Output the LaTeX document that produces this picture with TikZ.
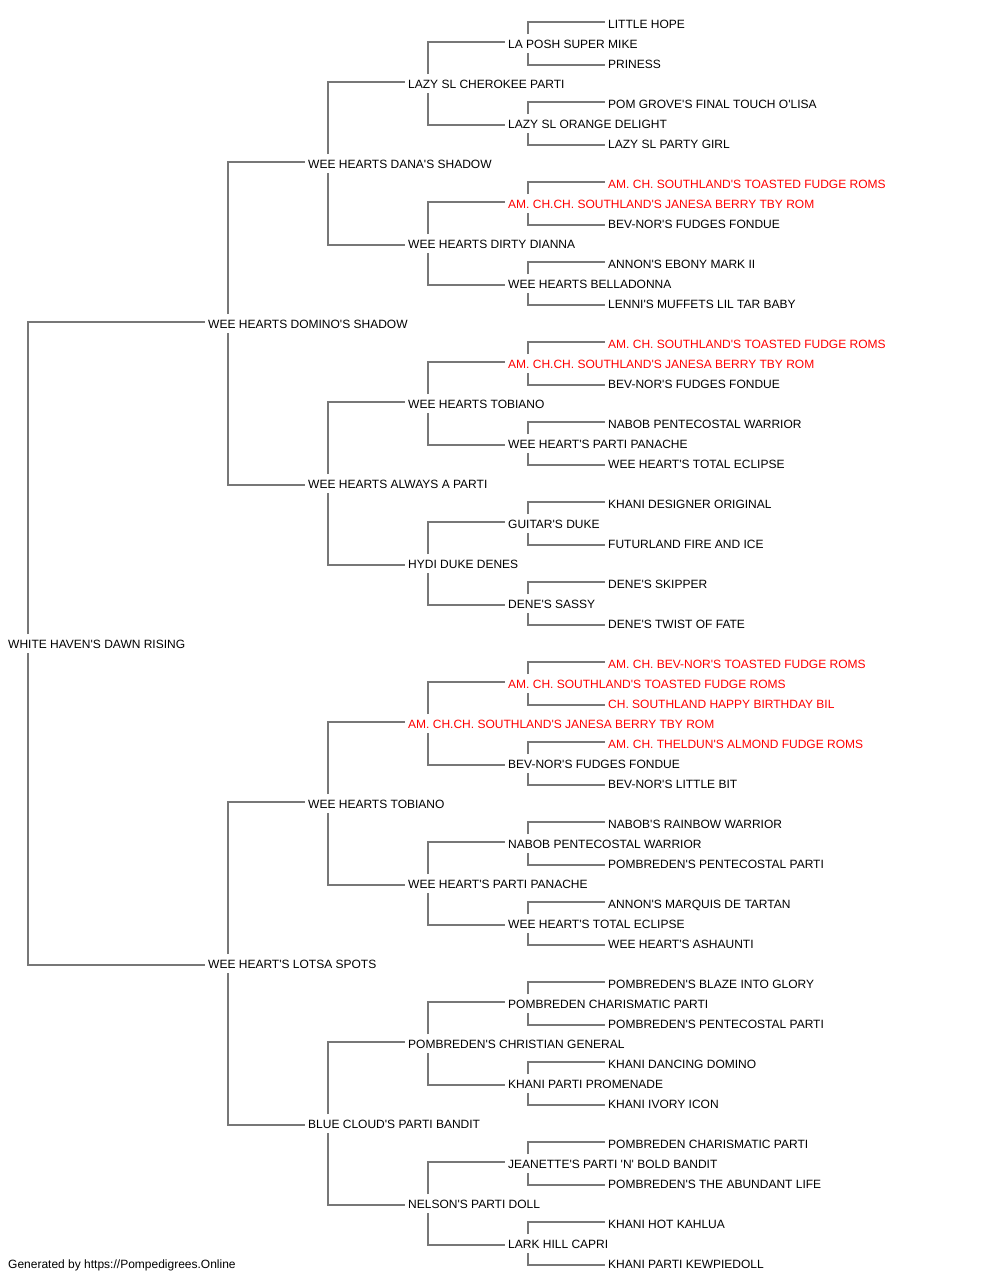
\documentclass[tikz,border=0pt]{standalone}
\usepackage{fontspec}
\setmainfont{Liberation Sans}[Ligatures=TeXOff]
\usetikzlibrary{calc}
\definecolor{linegray}{HTML}{777777}
\definecolor{redtxt}{HTML}{FF0000}
\tikzset{
  pedname/.style={anchor=west, inner sep=0pt, text height=8.6pt, text depth=0pt,
    font=\fontsize{12pt}{14pt}\selectfont},
  link/.style={draw=linegray, line width=1.5pt},
}
\begin{document}
\begin{tikzpicture}[x=1pt,y=-1pt]
\useasboundingbox (0,0) rectangle (1000,1280);
% generation 5
\foreach \t/\c [count=\i from 0] in {
 LITTLE HOPE/black, PRINESS/black, POM GROVE'S FINAL TOUCH O'LISA/black, LAZY SL PARTY GIRL/black,
 AM. CH. SOUTHLAND'S TOASTED FUDGE ROMS/redtxt, BEV-NOR'S FUDGES FONDUE/black,
 ANNON'S EBONY MARK II/black, LENNI'S MUFFETS LIL TAR BABY/black,
 AM. CH. SOUTHLAND'S TOASTED FUDGE ROMS/redtxt, BEV-NOR'S FUDGES FONDUE/black,
 NABOB PENTECOSTAL WARRIOR/black, WEE HEART'S TOTAL ECLIPSE/black,
 KHANI DESIGNER ORIGINAL/black, FUTURLAND FIRE AND ICE/black,
 DENE'S SKIPPER/black, DENE'S TWIST OF FATE/black,
 AM. CH. BEV-NOR'S TOASTED FUDGE ROMS/redtxt, CH. SOUTHLAND HAPPY BIRTHDAY BIL/redtxt,
 AM. CH. THELDUN'S ALMOND FUDGE ROMS/redtxt, BEV-NOR'S LITTLE BIT/black,
 NABOB'S RAINBOW WARRIOR/black, POMBREDEN'S PENTECOSTAL PARTI/black,
 ANNON'S MARQUIS DE TARTAN/black, WEE HEART'S ASHAUNTI/black,
 POMBREDEN'S BLAZE INTO GLORY/black, POMBREDEN'S PENTECOSTAL PARTI/black,
 KHANI DANCING DOMINO/black, KHANI IVORY ICON/black,
 POMBREDEN CHARISMATIC PARTI/black, POMBREDEN'S THE ABUNDANT LIFE/black,
 KHANI HOT KAHLUA/black, KHANI PARTI KEWPIEDOLL/black}
 { \node[pedname, text=\c] (g5-\i) at (608, 24+40*\i) {\t}; }
% generation 4
\foreach \t/\c [count=\i from 0] in {
 LA POSH SUPER MIKE/black, LAZY SL ORANGE DELIGHT/black,
 AM. CH.CH. SOUTHLAND'S JANESA BERRY TBY ROM/redtxt, WEE HEARTS BELLADONNA/black,
 AM. CH.CH. SOUTHLAND'S JANESA BERRY TBY ROM/redtxt, WEE HEART'S PARTI PANACHE/black,
 GUITAR'S DUKE/black, DENE'S SASSY/black,
 AM. CH. SOUTHLAND'S TOASTED FUDGE ROMS/redtxt, BEV-NOR'S FUDGES FONDUE/black,
 NABOB PENTECOSTAL WARRIOR/black, WEE HEART'S TOTAL ECLIPSE/black,
 POMBREDEN CHARISMATIC PARTI/black, KHANI PARTI PROMENADE/black,
 JEANETTE'S PARTI 'N' BOLD BANDIT/black, LARK HILL CAPRI/black}
 { \node[pedname, text=\c] (g4-\i) at (508, 44+80*\i) {\t}; }
% generation 3
\foreach \t/\c [count=\i from 0] in {
 LAZY SL CHEROKEE PARTI/black, WEE HEARTS DIRTY DIANNA/black,
 WEE HEARTS TOBIANO/black, HYDI DUKE DENES/black,
 AM. CH.CH. SOUTHLAND'S JANESA BERRY TBY ROM/redtxt, WEE HEART'S PARTI PANACHE/black,
 POMBREDEN'S CHRISTIAN GENERAL/black, NELSON'S PARTI DOLL/black}
 { \node[pedname, text=\c] (g3-\i) at (408, 84+160*\i) {\t}; }
% generation 2
\foreach \t [count=\i from 0] in {
 WEE HEARTS DANA'S SHADOW, WEE HEARTS ALWAYS A PARTI,
 WEE HEARTS TOBIANO, BLUE CLOUD'S PARTI BANDIT}
 { \node[pedname] (g2-\i) at (308, 164+320*\i) {\t}; }
% generation 1
\node[pedname] (g1-0) at (208, 324) {WEE HEARTS DOMINO'S SHADOW};
\node[pedname] (g1-1) at (208, 964) {WEE HEART'S LOTSA SPOTS};
% root
\node[pedname] (g0-0) at (8, 644) {WHITE HAVEN'S DAWN RISING};
% footer
\node[pedname] (footer) at (8, 1264) {Generated by https://Pompedigrees.Online};
% connectors
\foreach \p/\c/\n in {0/1/0, 1/2/1, 2/3/3, 3/4/7, 4/5/15} {
  \foreach \j in {0,...,\n} {
    \pgfmathtruncatemacro\a{2*\j}
    \pgfmathtruncatemacro\b{2*\j+1}
    \draw[link] ($(g\p-\j.west)+(20,-10)$) |- ($(g\c-\a.west)+(-3,-2)$);
    \draw[link] ($(g\p-\j.west)+(20,9)$) |- ($(g\c-\b.west)+(-3,1)$);
  }
}
\end{tikzpicture}
\end{document}
